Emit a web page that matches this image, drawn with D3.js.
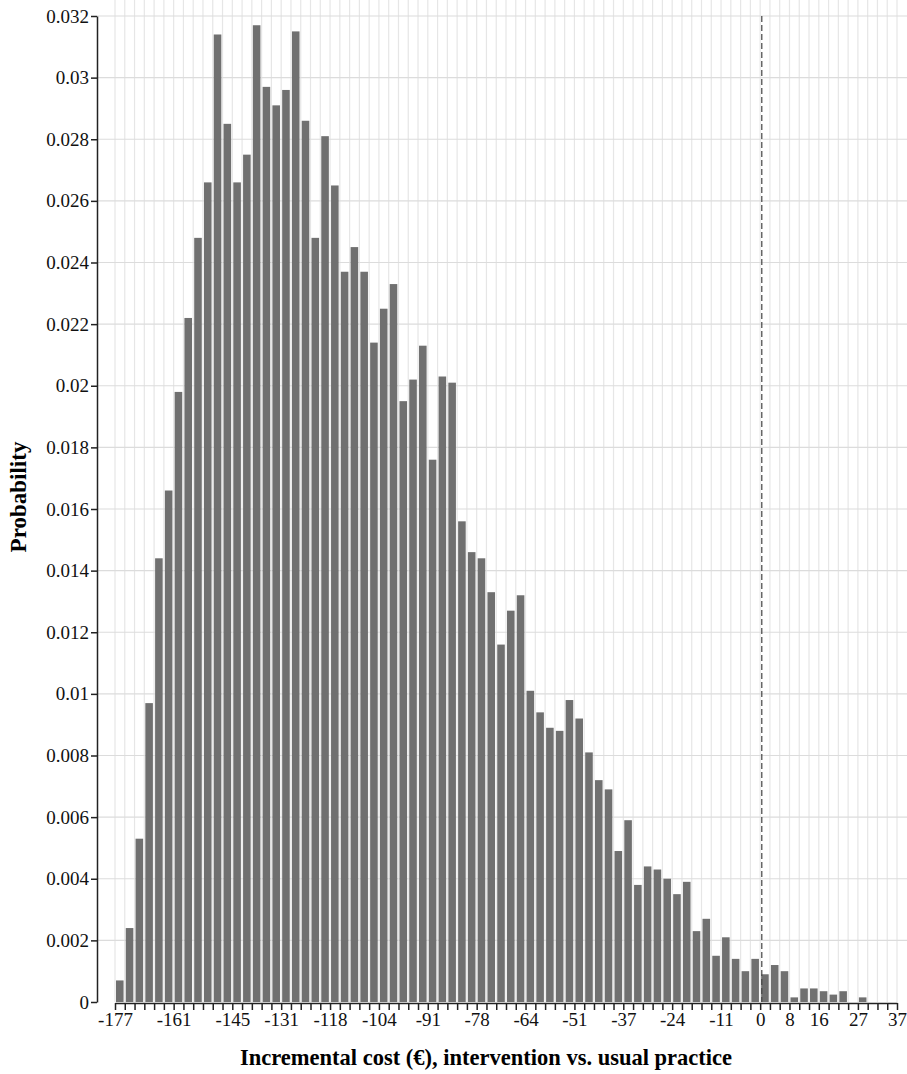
<!DOCTYPE html>
<html>
<head>
<meta charset="utf-8">
<script src="https://cdn.jsdelivr.net/npm/d3@7"></script>
<style>
  body { margin: 0; background: #fff; }
  svg { display: block; }
  svg text { font-family: "Liberation Serif", "Times New Roman", serif !important; }
</style>
</head>
<body>
<div id="chart"></div>
<script>
// probability per cost bin (80 bins from -177 to 37)
const probs = [
  0.0007, 0.0024, 0.0053, 0.0097, 0.0144, 0.0166, 0.0198, 0.0222, 0.0248, 0.0266,
  0.0314, 0.0285, 0.0266, 0.0275, 0.0317, 0.0297, 0.0291, 0.0296, 0.0315, 0.0286,
  0.0248, 0.0281, 0.0265, 0.0237, 0.0245, 0.0237, 0.0214, 0.0225, 0.0233, 0.0195,
  0.0202, 0.0213, 0.0176, 0.0203, 0.0201, 0.0156, 0.0146, 0.0144, 0.0133, 0.0116,
  0.0127, 0.0132, 0.0101, 0.0094, 0.0089, 0.0088, 0.0098, 0.0092, 0.0081, 0.0072,
  0.0069, 0.0049, 0.0059, 0.0038, 0.0044, 0.0043, 0.0040, 0.0035, 0.0039, 0.0023,
  0.0027, 0.0015, 0.0021, 0.0014, 0.0010, 0.0014, 0.0009, 0.0012, 0.0010, 0.00015,
  0.00044, 0.00044, 0.00035, 0.00024, 0.00035, 0, 0.00015, 0, 0, 0
];
const costRange = [-177, 37];
const xTickLabels = ['-177', '-161', '-145', '-131', '-118', '-104', '-91', '-78', '-64',
  '-51', '-37', '-24', '-11', '0', '8', '16', '27', '37'];
const xTickBins = [0, 6, 12, 17, 22, 27, 32, 37, 42, 47, 52, 57, 62, 66, 69, 72, 76, 80];
const yTicks = [0, 0.002, 0.004, 0.006, 0.008, 0.01, 0.012, 0.014, 0.016,
  0.018, 0.02, 0.022, 0.024, 0.026, 0.028, 0.03, 0.032];

const width = 907, height = 1074;
const plotLeft = 115, plotRight = 897, plotTop = 16, plotBottom = 1002;
const yAxisX = 97;

const svg = d3.select('#chart')
  .append('svg')
  .attr('width', width)
  .attr('height', height);

svg.append('rect').attr('width', width).attr('height', height).attr('fill', '#fff');

const x = d3.scaleLinear().domain([0, probs.length]).range([plotLeft, plotRight]);
const cost = d3.scaleLinear().domain(costRange).range([plotLeft, plotRight]);
const y = d3.scaleLinear().domain([0, 0.032]).range([plotBottom, plotTop]);

// grid
svg.append('g')
  .selectAll('line')
  .data(d3.range(probs.length + 1))
  .enter()
  .append('line')
  .attr('x1', d => x(d)).attr('x2', d => x(d))
  .attr('y1', 0).attr('y2', plotBottom)
  .attr('stroke', '#e6e6e6')
  .attr('stroke-width', 1.2);

svg.append('g')
  .selectAll('line')
  .data(yTicks.slice(1))
  .enter()
  .append('line')
  .attr('x1', yAxisX).attr('x2', width)
  .attr('y1', d => y(d)).attr('y2', d => y(d))
  .attr('stroke', '#dcdcdc')
  .attr('stroke-width', 1.2);

// bars
const step = x(1) - x(0);
svg.append('g')
  .selectAll('rect')
  .data(probs)
  .enter()
  .append('rect')
  .attr('x', (d, i) => x(i) + 1)
  .attr('width', step - 2.2)
  .attr('y', d => y(d))
  .attr('height', d => y(0) - y(d))
  .attr('fill', '#707070');

// zero line
svg.append('line')
  .attr('x1', cost(0)).attr('x2', cost(0))
  .attr('y1', plotTop).attr('y2', plotBottom)
  .attr('stroke', '#444')
  .attr('stroke-width', 1.2)
  .attr('stroke-dasharray', '6,3');

// axes
const yAxis = svg.append('g')
  .attr('transform', `translate(${yAxisX},0)`)
  .call(d3.axisLeft(y)
    .tickValues(yTicks)
    .tickSize(6)
    .tickPadding(2)
    .tickSizeOuter(0)
    .tickFormat(d => String(+d.toFixed(3))));

const labelAt = new Map(xTickBins.map((b, i) => [b, xTickLabels[i]]));
const xAxis = svg.append('g')
  .attr('transform', `translate(0,${plotBottom + 1})`)
  .call(d3.axisBottom(x)
    .tickValues(d3.range(probs.length + 1))
    .tickSize(7)
    .tickPadding(3)
    .tickSizeOuter(0)
    .tickFormat(d => labelAt.get(d) || ''));

[yAxis, xAxis].forEach(g => {
  g.attr('font-family', null).attr('font-size', null);
  g.selectAll('path, line').attr('stroke', '#222').attr('stroke-width', 1.5);
  g.selectAll('text').attr('fill', '#111').style('font-size', '19px');
});

// titles
svg.append('text')
  .attr('x', 486).attr('y', 1065)
  .attr('text-anchor', 'middle')
  .style('font-size', '22.5px')
  .style('font-weight', 'bold')
  .text('Incremental cost (€), intervention vs. usual practice');

svg.append('text')
  .attr('transform', 'translate(26,497) rotate(-90)')
  .attr('text-anchor', 'middle')
  .style('font-size', '23px')
  .style('font-weight', 'bold')
  .text('Probability');
</script>
</body>
</html>
